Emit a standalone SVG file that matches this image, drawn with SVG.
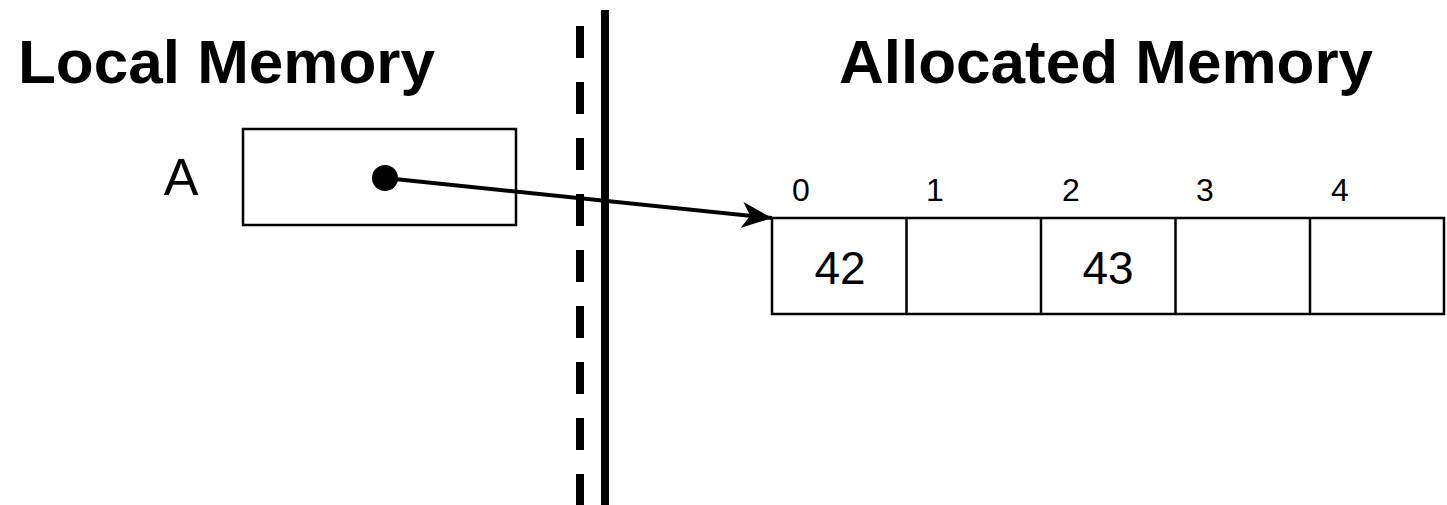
<svg xmlns="http://www.w3.org/2000/svg" width="1447" height="505" viewBox="0 0 1447 505">
<style>
.title{font-family:"Liberation Sans",Arial,sans-serif;font-weight:bold;font-size:62px;fill:#000}
.lbl{font-family:"Liberation Sans",Arial,sans-serif;fill:#000}
.idx{font-size:32px;text-anchor:middle}
.val{font-size:46px;text-anchor:middle}
.box{fill:#fff;stroke:#000;stroke-width:2.5}
</style>
<defs>
<marker id="arr" markerUnits="userSpaceOnUse" markerWidth="32" markerHeight="28" refX="30" refY="13" orient="auto" viewBox="0 0 32 26">
<path d="M0,0 L30,13 L0,26 L8,13 Z" fill="#000"/>
</marker>
</defs>
<rect width="1447" height="505" fill="#fff"/>
<g id="title-local"><text class="title" x="18" y="83">Local Memory</text></g>
<g id="title-allocated"><text class="title" x="839" y="83">Allocated Memory</text></g>
<g id="dividers">
<line x1="580" y1="26" x2="580" y2="505" stroke="#000" stroke-width="8" stroke-dasharray="32 24"/>
<line x1="605" y1="10" x2="605" y2="505" stroke="#000" stroke-width="8"/>
</g>
<g id="node-A">
<text class="lbl" x="181" y="195" font-size="52" text-anchor="middle">A</text>
<rect class="box" x="243" y="129" width="273" height="96"/>
</g>
<g id="node-array">
<rect class="box" x="772" y="218" width="672" height="96"/>
<line x1="906.5" y1="218" x2="906.5" y2="314" stroke="#000" stroke-width="2.5"/>
<line x1="1041" y1="218" x2="1041" y2="314" stroke="#000" stroke-width="2.5"/>
<line x1="1175.5" y1="218" x2="1175.5" y2="314" stroke="#000" stroke-width="2.5"/>
<line x1="1310" y1="218" x2="1310" y2="314" stroke="#000" stroke-width="2.5"/>
<text class="lbl idx" x="801" y="201">0</text>
<text class="lbl idx" x="935" y="201">1</text>
<text class="lbl idx" x="1071" y="201">2</text>
<text class="lbl idx" x="1205" y="201">3</text>
<text class="lbl idx" x="1340" y="201">4</text>
<text class="lbl val" x="840" y="284">42</text>
<text class="lbl val" x="1108" y="284">43</text>
</g>
<g id="connectors">
<circle cx="385" cy="178" r="13" fill="#000"/>
<line x1="385" y1="178" x2="772" y2="218" stroke="#000" stroke-width="4" marker-end="url(#arr)"/>
</g>
</svg>
